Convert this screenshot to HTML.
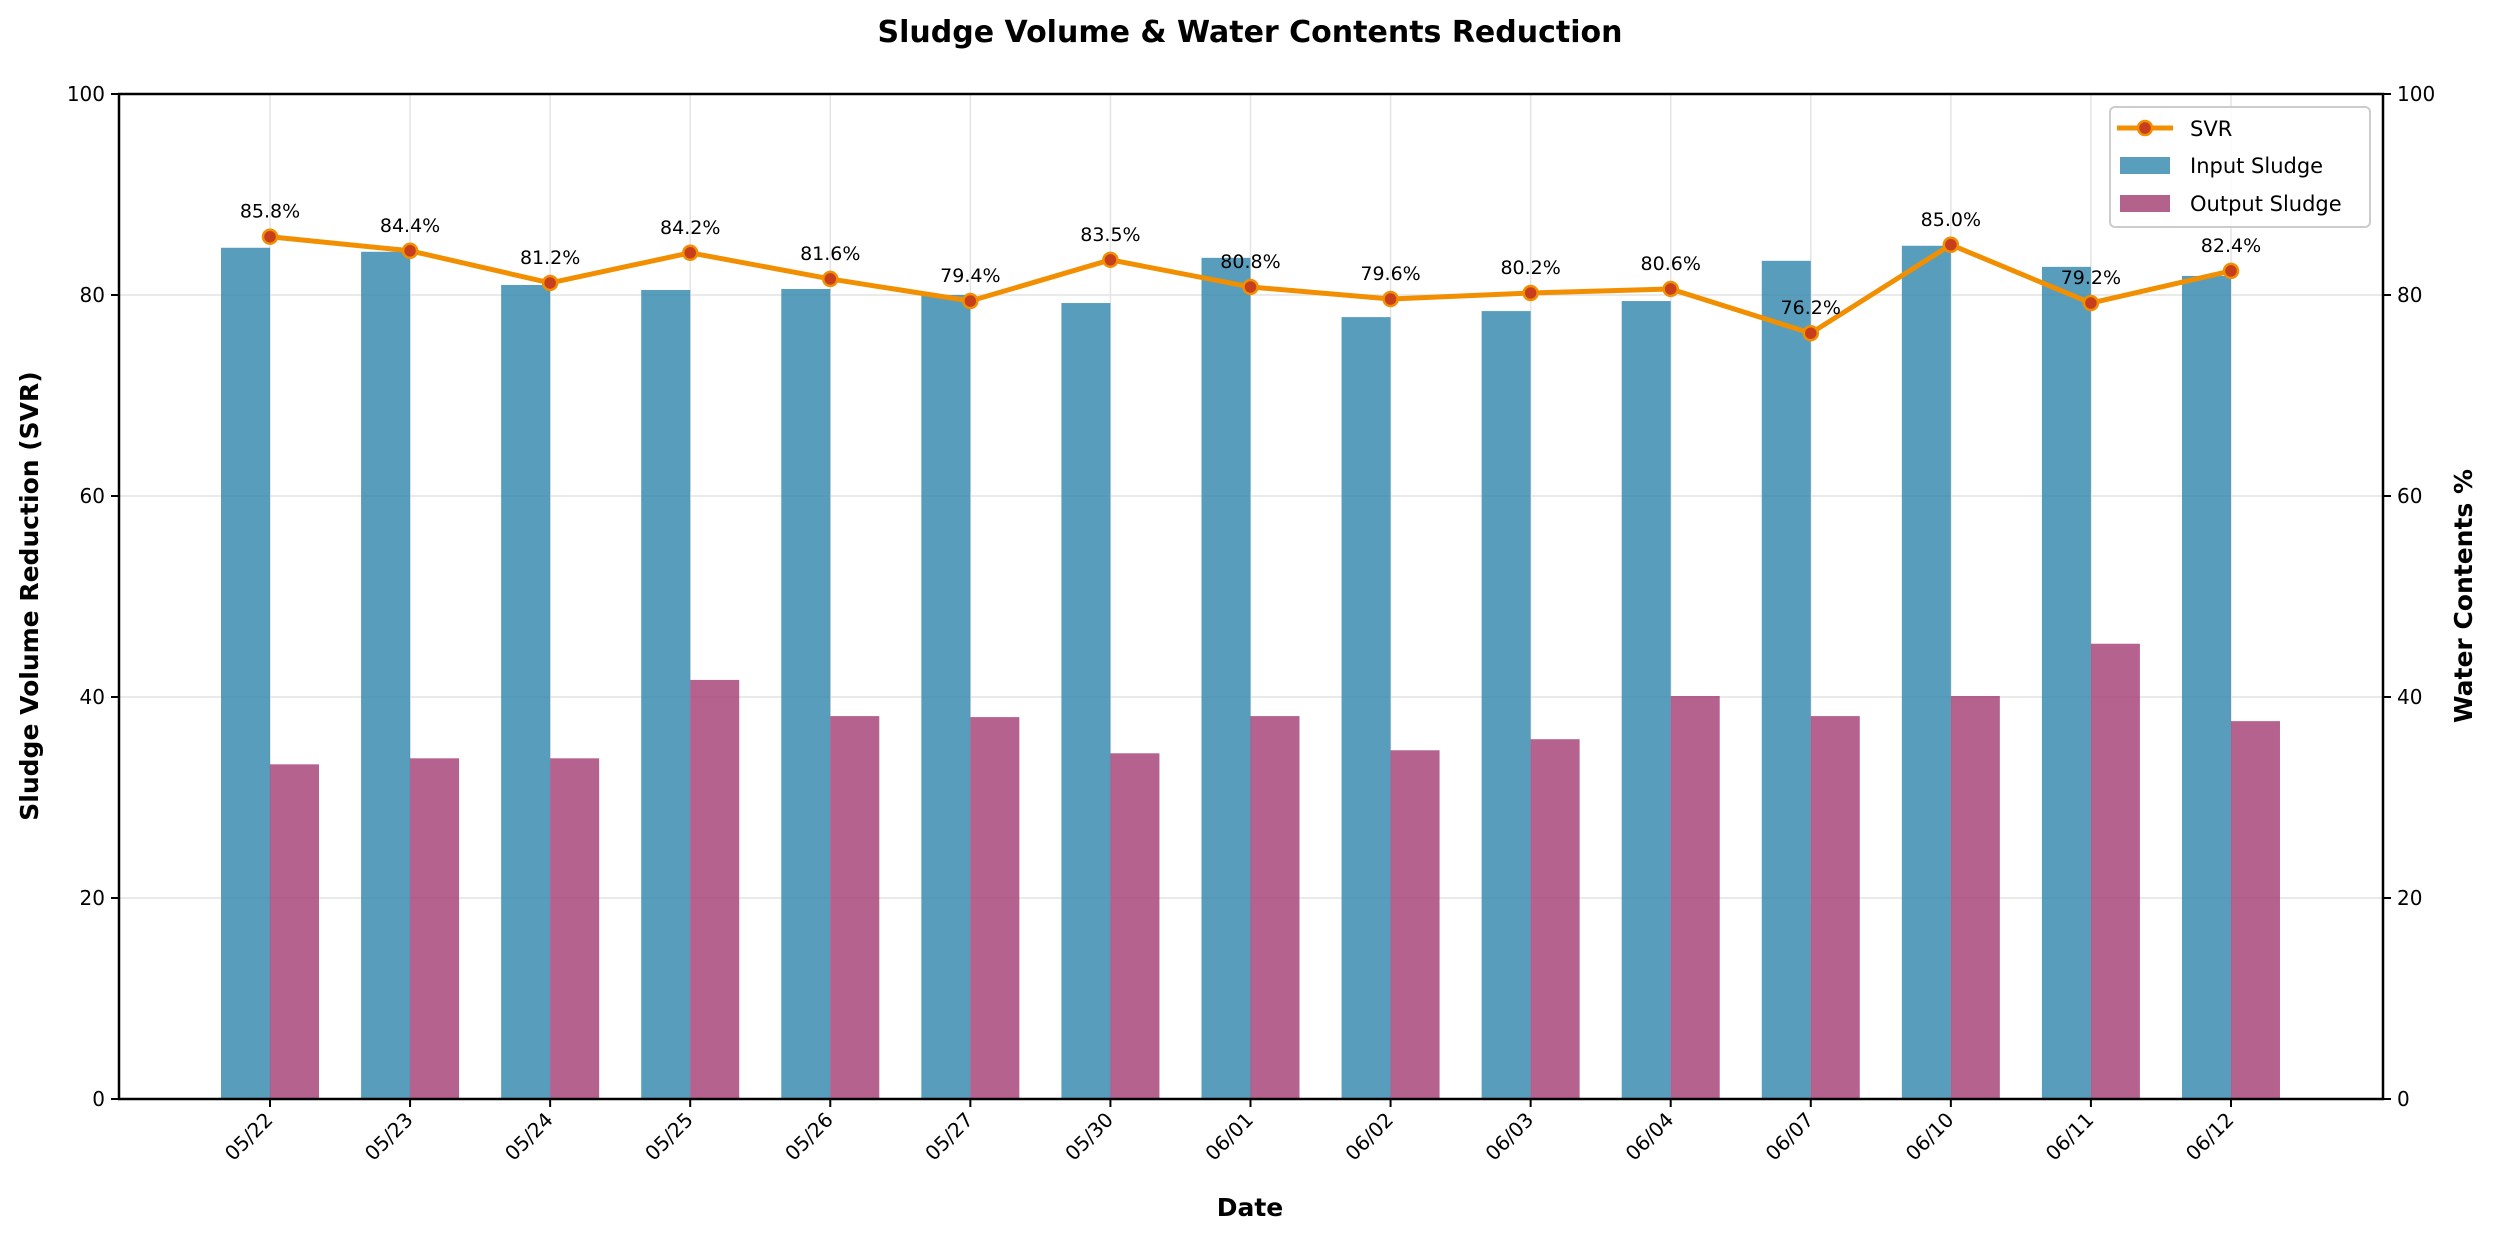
<!DOCTYPE html>
<html><head><meta charset="utf-8"><style>
html,body{margin:0;padding:0;background:#fff;}
svg text{font-family:"DejaVu Sans","Liberation Sans",sans-serif;}
</style></head><body>
<svg id="chart" width="2500" height="1240" viewBox="0 0 2500 1240" xmlns="http://www.w3.org/2000/svg">
<rect width="2500" height="1240" fill="#fff"/>
<text x="1250" y="42" text-anchor="middle" font-size="30" font-weight="bold">Sludge Volume &amp; Water Contents Reduction</text>
<g id="grid"></g><g id="bars"></g><g id="line"></g><g id="axes"></g>
<text x="1250" y="1216" text-anchor="middle" font-size="25" font-weight="bold">Date</text>
<text transform="translate(38,596) rotate(-90)" text-anchor="middle" font-size="25" font-weight="bold">Sludge Volume Reduction (SVR)</text>
<text transform="translate(2472,596) rotate(-90)" text-anchor="middle" font-size="25" font-weight="bold">Water Contents %</text>
<g>
<rect x="2110" y="107" width="260" height="120" rx="5" fill="#fff" fill-opacity="0.85" stroke="#ccc" stroke-width="2"/>
<line x1="2117" y1="128" x2="2173" y2="128" stroke="#F18F01" stroke-width="5"/>
<circle cx="2145" cy="128" r="7" fill="#C73E1D" stroke="#F18F01" stroke-width="2.5"/>
<text x="2190" y="136" font-size="21">SVR</text>
<rect x="2120" y="157" width="50" height="17" fill="#5a9ebd"/>
<text x="2190" y="173" font-size="21">Input Sludge</text>
<rect x="2120" y="195" width="50" height="17" fill="#b3638b"/>
<text x="2190" y="211" font-size="21">Output Sludge</text>
</g>
</svg>
<script>
const categories=["05/22","05/23","05/24","05/25","05/26","05/27","05/30","06/01","06/02","06/03","06/04","06/07","06/10","06/11","06/12"];
const inputSludge=[84.7,84.3,81.0,80.5,80.6,80.0,79.2,83.7,77.8,78.4,79.4,83.4,84.9,82.8,81.9];
const outputSludge=[33.3,33.9,33.9,41.7,38.1,38.0,34.4,38.1,34.7,35.8,40.1,38.1,40.1,45.3,37.6];
const svr=[85.8,84.4,81.2,84.2,81.6,79.4,83.5,80.8,79.6,80.2,80.6,76.2,85.0,79.2,82.4];
const yTicks=[0,20,40,60,80,100];
const NS="http://www.w3.org/2000/svg";
const L=119,R=2383,T=94,B=1099,X0=270,DX=140.07,BW=49;
const xs=i=>X0+i*DX;
const ys=v=>B-(v/100)*(B-T);
function mk(tag,parent,attrs){const e=document.createElementNS(NS,tag);for(const k in attrs)e.setAttribute(k,attrs[k]);document.getElementById(parent).appendChild(e);return e;}
yTicks.forEach(v=>{
 const g=mk('line','grid',{x1:L,x2:R,y1:ys(v),y2:ys(v),stroke:'#e3e3e3','stroke-width':1.5});
 
 
});
categories.forEach((c,i)=>{
 const g=mk('line','grid',{x1:xs(i),x2:xs(i),y1:T,y2:B,stroke:'#e3e3e3','stroke-width':1.5});
 
 
 const b1=mk('rect','bars',{x:xs(i)-BW,y:ys(inputSludge[i]),width:BW,height:B-ys(inputSludge[i]),fill:'#2E86AB','fill-opacity':0.8});
 
 
 const b2=mk('rect','bars',{x:xs(i),y:ys(outputSludge[i]),width:BW,height:B-ys(outputSludge[i]),fill:'#A23B72','fill-opacity':0.8});
 
 
});
const pts=svr.map((v,i)=>xs(i)+','+ys(v)).join(' ');
const pl=mk('polyline','line',{points:pts,fill:'none',stroke:'#F18F01','stroke-width':5,'stroke-linejoin':'round'});


svr.forEach((v,i)=>{
 const c=mk('circle','line',{cx:xs(i),cy:ys(v),r:7,fill:'#C73E1D',stroke:'#F18F01','stroke-width':2.5});
 
 
 const t=mk('text','line',{x:xs(i),y:ys(v)-19,'text-anchor':'middle','font-size':19});
 t.textContent=v.toFixed(1)+'%';
 
 
});
const ax=mk('rect','axes',{x:L,y:T,width:R-L,height:B-T,fill:'none',stroke:'#000','stroke-width':2.5});


yTicks.forEach(v=>{
 mk('line','axes',{x1:L-8,x2:L,y1:ys(v),y2:ys(v),stroke:'#000','stroke-width':2});
 mk('line','axes',{x1:R,x2:R+8,y1:ys(v),y2:ys(v),stroke:'#000','stroke-width':2});
 const t1=mk('text','axes',{x:L-14,y:ys(v)+7,'text-anchor':'end','font-size':20});
 t1.textContent=v;
 
 
 const t2=mk('text','axes',{x:R+14,y:ys(v)+7,'text-anchor':'start','font-size':20});
 t2.textContent=v;
 
 
});
categories.forEach((c,i)=>{
 mk('line','axes',{x1:xs(i),x2:xs(i),y1:B,y2:B+8,stroke:'#000','stroke-width':2});
 const t=mk('text','axes',{transform:`translate(${xs(i)+4},${B+22}) rotate(-45)`,'text-anchor':'end','font-size':20});
 t.textContent=c;
 
 
});
</script>
</body></html>
